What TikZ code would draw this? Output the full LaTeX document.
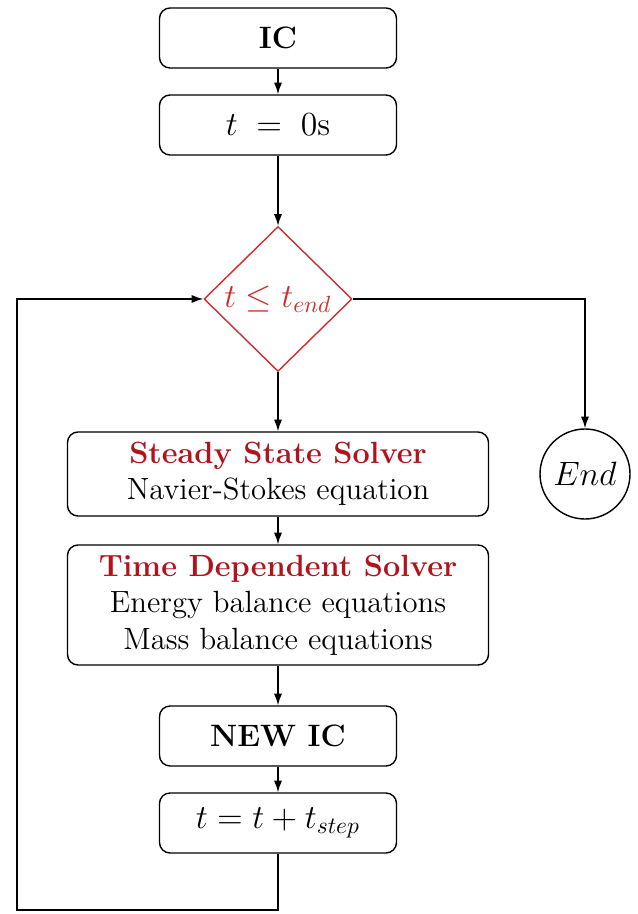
\documentclass[tikz,border=0pt,11pt]{standalone}
\usepackage{tikz}
\usetikzlibrary{shapes.geometric}
\usetikzlibrary{calc}
\usetikzlibrary{arrows.meta}
\definecolor{rouge}{RGB}{175,20,30}
\definecolor{rougeclair}{RGB}{205,45,45}

\begin{document}
\begin{tikzpicture}[x=0.015cm,y=-0.015cm,line width=0.6pt,
    boite/.style={draw,rounded corners=4.5pt,minimum width=3.555cm,minimum height=0.9cm,align=center,font=\fontsize{13.2}{17}\selectfont},
    grandeboite/.style={boite,minimum width=6.315cm,font=\fontsize{13.1}{15.5}\selectfont},
    losange/.style={draw=rougeclair,diamond,aspect=1,minimum width=2.22cm,minimum height=2.175cm,inner sep=0pt,text=rougeclair,font=\fontsize{14.4}{17}\selectfont},
    fin/.style={draw,circle,minimum size=1.35cm,inner sep=0pt,font=\fontsize{14.2}{17}\selectfont},
    fleche/.style={-{Latex[length=5pt,width=3.5pt]}}]
            \useasboundingbox (0,0) rectangle (638,914);
                \node[boite] (ic) at (278,38) {\textbf{IC}};
                \node[boite,font=\fontsize{14.2}{17}\selectfont] (tzero) at (278,125) {$t\;=\;0$s};
                \node[losange] (test) at (278,299) {$t \leq t_{end}$};
                \node[grandeboite,minimum height=1.26cm] (steady) at (278,474) {\textcolor{rouge}{\textbf{Steady State Solver}}\\Navier-Stokes equation};
                \node[fin] (end) at (585,474) {$End$};
                \node[grandeboite,minimum height=1.8cm] (timedep) at (278,605) {\textcolor{rouge}{\textbf{Time Dependent Solver}}\\Energy balance equations\\Mass balance equations};
                \node[boite] (newic) at (278,736) {\textbf{NEW IC}};
                \node[boite,font=\fontsize{14.4}{17}\selectfont] (tstep) at (278,823) {$t = t + t_{step}$};
                \draw[fleche] (ic) -- (tzero);
                \draw[fleche] (tzero) -- (test);
                \draw[fleche] (test) -- (steady);
                \draw[fleche] (steady) -- (timedep);
                \draw[fleche] (timedep) -- (newic);
                \draw[fleche] (newic) -- (tstep);
                \draw[fleche] (test.east) -| (end.north);
                \coordinate (B1) at (278,910);
                \coordinate (B2) at (17,910);
                \coordinate (B3) at (17,299);
                \draw[fleche] (tstep.south) -- (B1) -- (B2) -- (B3) -- (test.west);
            \end{tikzpicture}
\end{document}
